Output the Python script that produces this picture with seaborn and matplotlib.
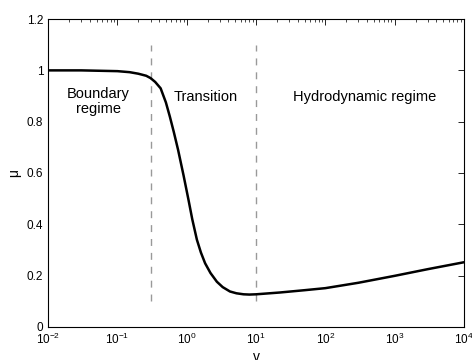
import numpy as np
import pandas as pd
import matplotlib
matplotlib.use('Agg')
import matplotlib.pyplot as plt
import seaborn as sns

# Stribeck curve
velocity = [0.01, 0.03, 0.1, 0.15, 0.2, 0.26, 0.3, 0.35, 0.42, 0.5, 0.57, 0.65, 0.75, 0.9,
            1.06, 1.2, 1.4, 1.6, 1.84, 2.2, 2.72, 3.3, 4.2, 5.2, 6.6, 8, 10, 22, 50, 100,
            300, 1000, 3000, 10000]
friction = [1.0, 1.0, 0.997, 0.993, 0.987, 0.979, 0.97, 0.955, 0.93, 0.875, 0.82, 0.76, 0.69, 0.59,
            0.495, 0.42, 0.34, 0.29, 0.248, 0.21, 0.176, 0.155, 0.138, 0.131, 0.127, 0.126, 0.127, 0.134, 0.143, 0.151,
            0.172, 0.199, 0.225, 0.252]

boundaries = [0.3, 10]
regime_labels = ['Boundary\nregime', 'Transition', 'Hydrodynamic regime']
label_x = [0.053, 1.9, 370]
label_y = [0.88, 0.896, 0.896]

sns.set_style('white')
plt.rcParams['font.family'] = ['Liberation Sans', 'DejaVu Sans']
plt.rcParams.update({'text.color': 'black', 'axes.labelcolor': 'black',
                     'xtick.color': 'black', 'ytick.color': 'black'})

df = pd.DataFrame({'v': velocity, 'mu': friction})

fig = plt.figure(figsize=(4.72, 3.6), dpi=100)
ax = fig.add_axes([0.102, 0.092, 0.881, 0.855])

for b in boundaries:
    ax.plot([b, b], [0.1, 1.1], color='#999999', lw=1.0, ls=(0, (5, 5)))

sns.lineplot(data=df, x='v', y='mu', ax=ax, color='black', lw=1.8)

for txt, x, y in zip(regime_labels, label_x, label_y):
    ax.text(x, y, txt, ha='center', va='center', fontsize=10.5, linespacing=1.1)

ax.set_xscale('log')
ax.set_xlim(1e-2, 1e4)
ax.set_ylim(0, 1.2)
ax.set_yticks([0, 0.2, 0.4, 0.6, 0.8, 1, 1.2])
ax.set_yticklabels(['0', '0.2', '0.4', '0.6', '0.8', '1', '1.2'])
ax.set_xlabel('v', fontsize=10, labelpad=2)
ax.set_ylabel('μ', fontsize=10, labelpad=4)

ax.tick_params(which='both', direction='in', top=True, right=True, labelsize=8.5)
ax.tick_params(which='major', length=4, width=0.6)
ax.tick_params(which='minor', length=2, width=0.5)
for s in ax.spines.values():
    s.set_linewidth(0.8)
    s.set_color('black')

fig.savefig('out.png', dpi=100)
